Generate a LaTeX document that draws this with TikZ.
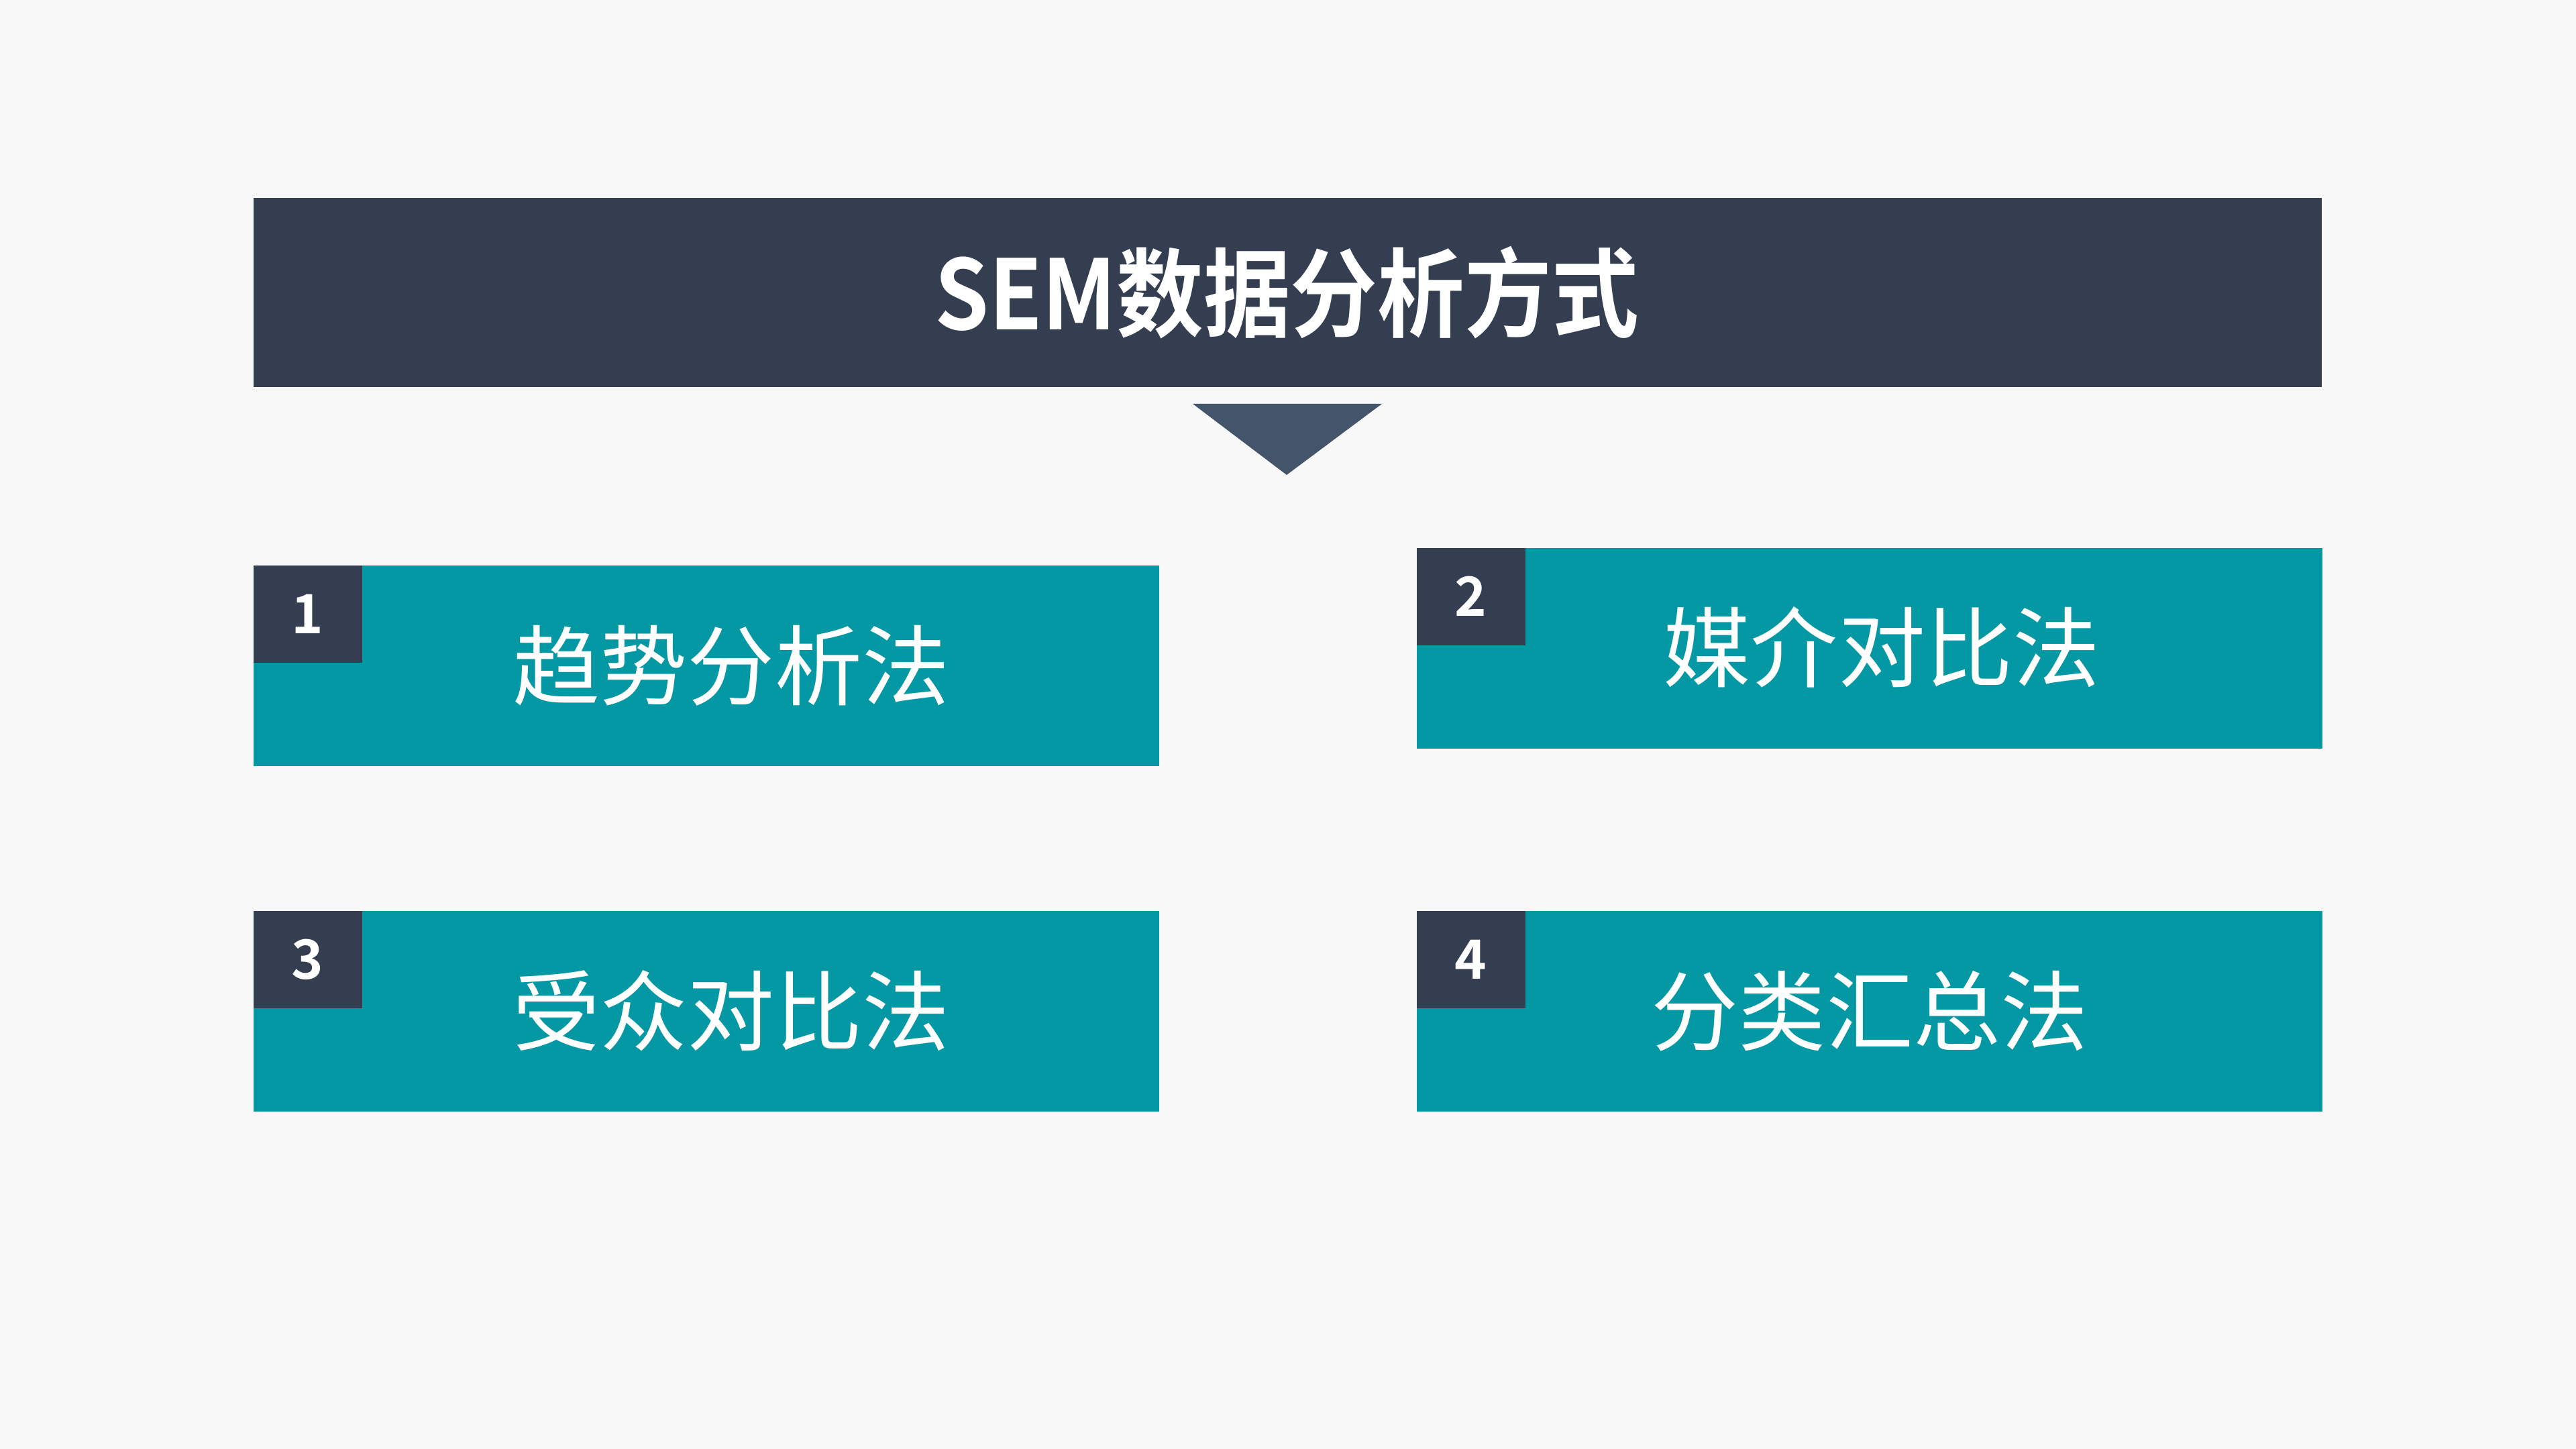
\documentclass[tikz,border=0pt]{standalone}
\usepackage{fontspec}
\usepackage{tikz}
\usetikzlibrary{positioning,calc}
\setmainfont{Noto Sans CJK SC}
\newfontfamily\cjkbold{Noto Sans CJK SC Bold}

\definecolor{navy}{HTML}{343E50}
\definecolor{slate}{HTML}{44546A}
\definecolor{teal}{HTML}{0497A4}
\definecolor{paper}{HTML}{F8F8F8}

\tikzset{
    itembox/.style={fill=teal, inner sep=0pt, minimum width=13.50cm, minimum height=2.99cm, anchor=north west},
    numbox/.style={fill=navy, text=white, inner sep=0pt, minimum width=1.62cm, minimum height=1.45cm, anchor=north west, font=\cjkbold\fontsize{23}{23}\selectfont},
    itemtext/.style={text=white, font=\fontsize{37}{37}\selectfont}
}

\begin{document}
\begin{tikzpicture}
        \fill[paper] (0,0) rectangle (38.4,21.6);
        \useasboundingbox (0,0) rectangle (38.4,21.6);
        % title bar
        \node[fill=navy, inner sep=0pt, minimum width=30.83cm, minimum height=2.82cm, anchor=north west] (title) at (3.77,18.66) {};
        \node[text=white, xscale=0.9, transform shape, font=\cjkbold\fontsize{41}{41}\selectfont] (titletext) at (19.18,17.24) {SEM数据分析方式};
        \coordinate (tl) at (17.78,15.58);
        \coordinate (tr) at (20.60,15.58);
        \coordinate (tip) at (19.18,14.52);
        \fill[slate] (tl) -- (tr) -- (tip) -- cycle;
        % four methods
        \node[itembox] (trend) at (3.77,13.18) {};
        \node[itembox] (media) at (21.11,13.44) {};
        \node[itembox] (audience) at (3.77,8.03) {};
        \node[itembox] (summary) at (21.11,8.03) {};
        \node[numbox] (n1) at (trend.north west) {1};
        \node[numbox] (n2) at (media.north west) {2};
        \node[numbox] (n3) at (audience.north west) {3};
        \node[numbox] (n4) at (summary.north west) {4};
        \node[itemtext] (trendtext) at (10.90,11.68) {趋势分析法};
        \node[itemtext] (mediatext) at (28.05,11.95) {媒介对比法};
        \node[itemtext] (audiencetext) at (10.90,6.53) {受众对比法};
        \node[itemtext] (summarytext) at (27.87,6.53) {分类汇总法};
    \end{tikzpicture}
\end{document}
